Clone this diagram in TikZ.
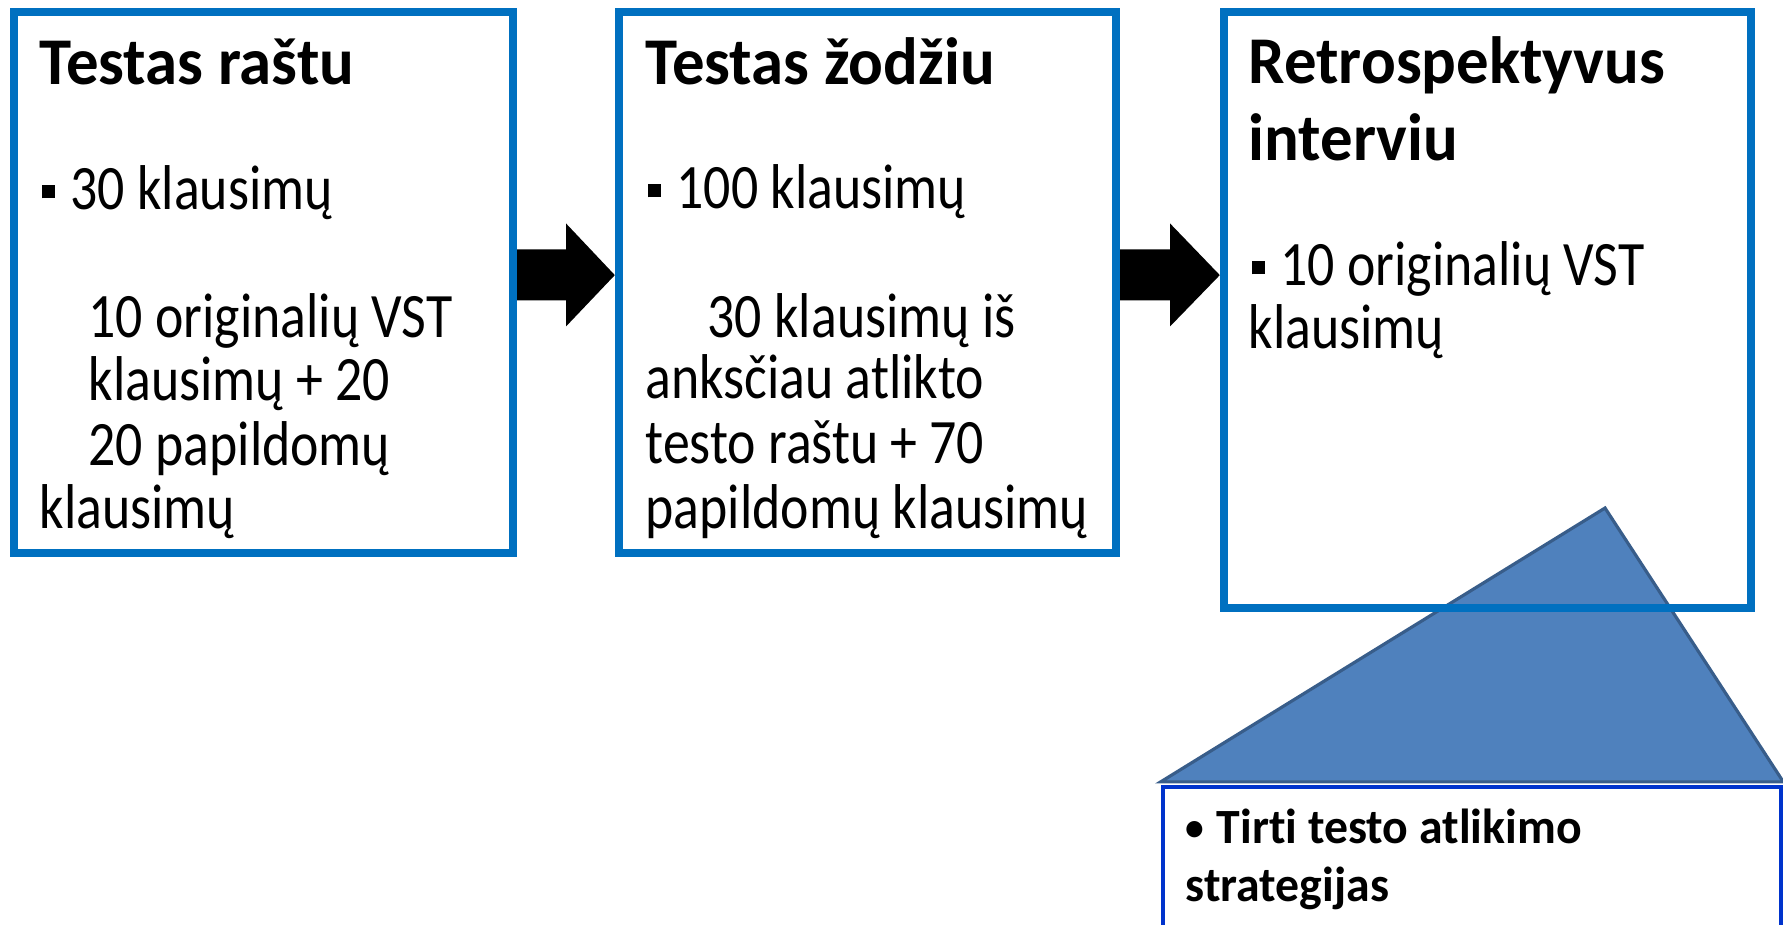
\documentclass[tikz,border=0pt]{standalone}
\usepackage{fontspec}
\setmainfont{Carlito}[FakeStretch=0.85,Ligatures=NoCommon]
\newfontfamily\headfont{Carlito}[FakeStretch=0.97,Ligatures=NoCommon]
\usetikzlibrary{calc}
\definecolor{boxblue}{HTML}{0070C0}
\definecolor{trifill}{HTML}{4F81BD}
\definecolor{triline}{HTML}{385D8A}
\definecolor{noteblue}{HTML}{0033CC}
\newcommand{\sqbullet}{\rule[3pt]{3.7pt}{3.7pt}}
\newcommand{\rdbullet}{\raisebox{0.8pt}{\fontsize{11}{12}\selectfont\textbullet}}
\begin{document}
\begin{tikzpicture}[x=0.01cm,y=-0.01cm,
	box/.style={draw=boxblue,line width=2.3pt,inner sep=0},
	txt/.style={anchor=base west,inner sep=0,font=\fontsize{18}{22}\selectfont},
	ttl/.style={anchor=base west,inner sep=0,font=\headfont\bfseries\fontsize{19}{23}\selectfont},
	notetxt/.style={anchor=base west,inner sep=0,font=\headfont\bfseries\fontsize{14}{17}\selectfont}]
		\clip (0,0) rectangle (1783,924);
		% note box under the triangle
		\node[draw=noteblue,line width=1.2pt,fill=white,minimum width=6.18cm,minimum height=2.12cm] (n1) at (1472,893) {};
		\filldraw[fill=trifill,draw=triline,line width=0.9pt] ($(n1.north west)+(0,-3)$) -- ($(n1.north east)+(0,-3)$) -- (1605,508) -- cycle;
		% the three steps
		\node[box,minimum width=4.99cm,minimum height=5.41cm] (b1) at (263.5,282.5) {};
		\node[box,minimum width=4.97cm,minimum height=5.41cm] (b2) at (867.5,282.5) {};
		\node[box,minimum width=5.27cm,minimum height=5.96cm] (b3) at (1487.5,310) {};
		\foreach \s/\t in {b1/b2,b2/b3}
			\fill let \p1=(\s.east), \p2=(\t.west) in
				({\x1},{\y1+9.4pt}) -- ({(\x1+\x2)/2},{\y1+9.4pt}) -- ({(\x1+\x2)/2},{\y1+16.8pt})
				-- ({\x2},{\y1+2.1pt}) -- ({(\x1+\x2)/2},{\y1-12.5pt}) -- ({(\x1+\x2)/2},{\y1-5.1pt})
				-- ({\x1},{\y1-5.1pt}) -- cycle;
		% texts
		\node[ttl] (t1) at (39,84) {Testas raštu};
		\node[txt] (t1a) at (41,209) {\sqbullet\hspace{4.5pt}30 klausimų};
		\node[txt] (t1b) at (88,337) {10 originalių VST};
		\node[txt] (t1c) at (88,400) {klausimų + 20};
		\node[txt] (t1d) at (88,465) {20 papildomų};
		\node[txt] (t1e) at (39,528) {klausimų};
		\node[ttl] (t2) at (645,84) {Testas žodžiu};
		\node[txt] (t2a) at (647,208) {\sqbullet\hspace{4.5pt}100 klausimų};
		\node[txt] (t2b) at (707,337) {30 klausimų iš};
		\node[txt] (t2c) at (645,398) {anksčiau atlikto};
		\node[txt] (t2d) at (645,463) {testo raštu + 70};
		\node[txt] (t2e) at (645,528) {papildomų klausimų};
		\node[ttl] (t3) at (1248,83) {Retrospektyvus};
		\node[ttl] (t3a) at (1248,160) {interviu};
		\node[txt] (t3b) at (1251,285) {\sqbullet\hspace{4.5pt}10 originalių VST};
		\node[txt] (t3c) at (1248,348) {klausimų};
		\node[notetxt] (n1a) at (1185,843) {\rdbullet\hspace{3.5pt}Tirti testo atlikimo};
		\node[notetxt] (n1b) at (1185,901) {strategijas};
	\end{tikzpicture}
\end{document}
